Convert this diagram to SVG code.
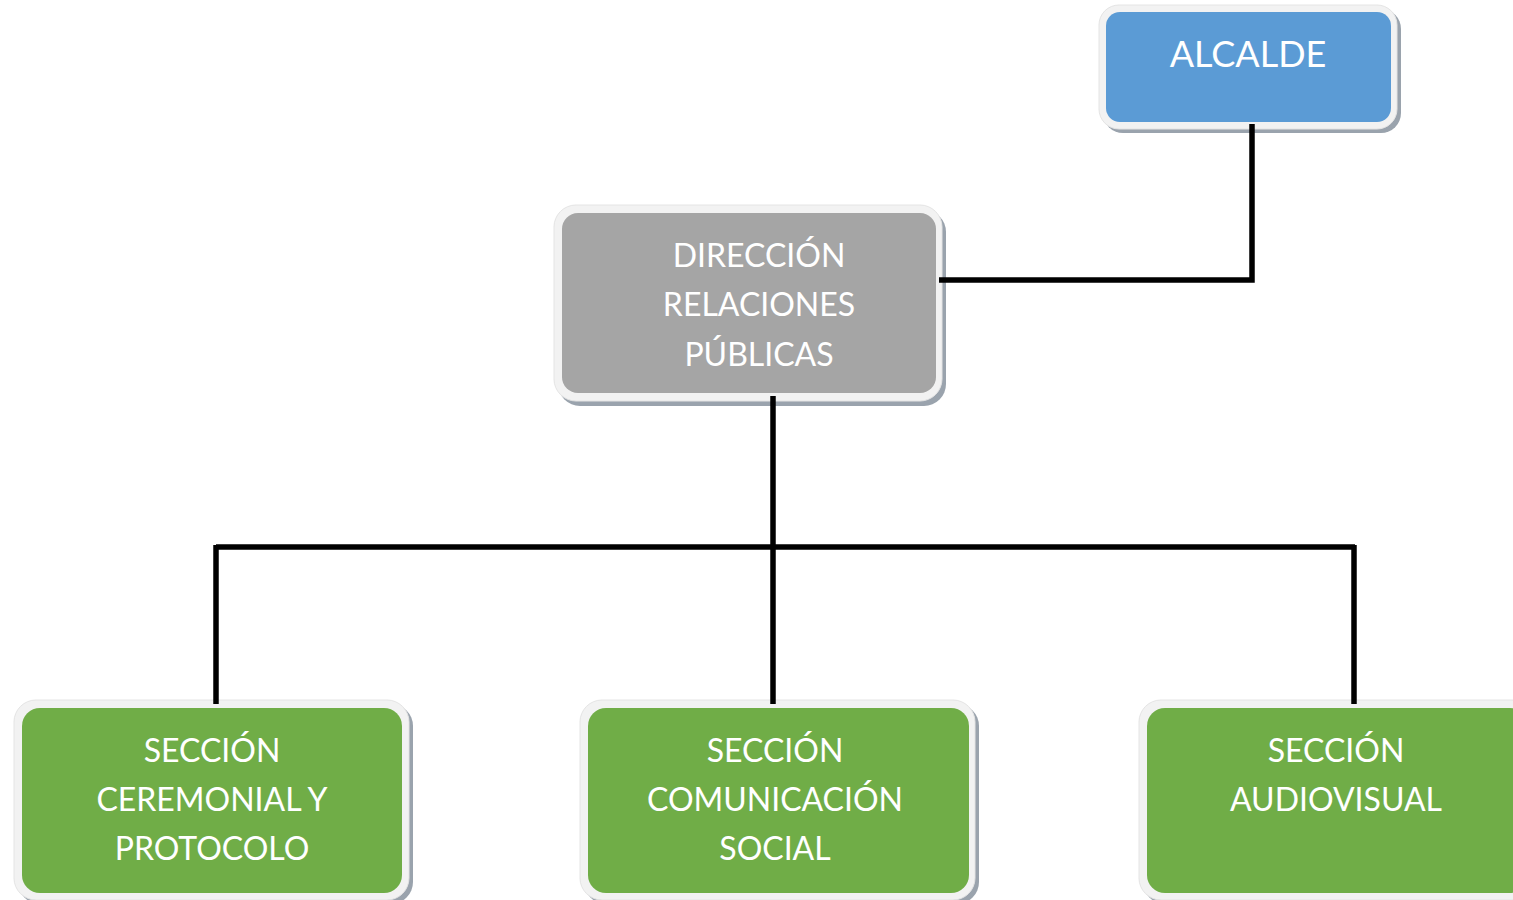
<svg xmlns="http://www.w3.org/2000/svg" width="1513" height="900" viewBox="0 0 1513 900">
<style>
.sh{fill:#9aa3ad;}
.bd{fill:#f2f2f2;stroke:#e4e4e4;stroke-width:1;}
.blue{fill:#5b9bd5;}
.gray{fill:#a5a5a5;}
.green{fill:#70ad47;}
.t{font-family:Lato,"Open Sans","Liberation Sans",sans-serif;fill:#ffffff;text-anchor:middle;}
.c{stroke:#000;stroke-width:5.5;fill:none;}
</style>
<rect width="1513" height="900" fill="#ffffff"/>
<g id="alcalde">
<rect class="sh" x="1103" y="9" width="298" height="124" rx="20"/>
<rect class="bd" x="1099" y="5" width="298" height="124" rx="20"/>
<rect class="blue" x="1106" y="12" width="285" height="110" rx="14"/>
<text class="t" x="1248" y="67" font-size="36">ALCALDE</text>
</g>
<g id="direccion">
<rect class="sh" x="558" y="210" width="388" height="196" rx="22"/>
<rect class="bd" x="554" y="205" width="388" height="196" rx="22"/>
<rect class="gray" x="562" y="213" width="374" height="180" rx="16"/>
<text class="t" x="759" y="267" font-size="32">DIRECCIÓN</text>
<text class="t" x="759" y="316" font-size="32">RELACIONES</text>
<text class="t" x="759" y="366" font-size="32">PÚBLICAS</text>
</g>
<g id="ceremonial">
<rect class="sh" x="18" y="704" width="395" height="200" rx="22"/>
<rect class="bd" x="14" y="700" width="395" height="200" rx="22"/>
<rect class="green" x="22" y="708" width="380" height="185" rx="18"/>
<text class="t" x="212" y="762" font-size="32">SECCIÓN</text>
<text class="t" x="212" y="811" font-size="32">CEREMONIAL Y</text>
<text class="t" x="212" y="860" font-size="32">PROTOCOLO</text>
</g>
<g id="comunicacion">
<rect class="sh" x="584" y="704" width="395" height="200" rx="22"/>
<rect class="bd" x="580" y="700" width="395" height="200" rx="22"/>
<rect class="green" x="588" y="708" width="381" height="185" rx="18"/>
<text class="t" x="775" y="762" font-size="32">SECCIÓN</text>
<text class="t" x="775" y="811" font-size="32">COMUNICACIÓN</text>
<text class="t" x="775" y="860" font-size="32">SOCIAL</text>
</g>
<g id="audiovisual">
<rect class="sh" x="1143" y="704" width="395" height="200" rx="22"/>
<rect class="bd" x="1139" y="700" width="395" height="200" rx="22"/>
<rect class="green" x="1147" y="708" width="381" height="185" rx="18"/>
<text class="t" x="1336" y="762" font-size="32">SECCIÓN</text>
<text class="t" x="1336" y="811" font-size="32">AUDIOVISUAL</text>
</g>
<g id="connectors">
<polyline class="c" points="1252,124 1252,280 939,280"/>
<line class="c" x1="773" y1="396" x2="773" y2="704"/>
<line class="c" x1="216" y1="547" x2="1355" y2="547"/>
<line class="c" x1="216" y1="545" x2="216" y2="704"/>
<line class="c" x1="1354" y1="545" x2="1354" y2="704"/>
</g>
</svg>
